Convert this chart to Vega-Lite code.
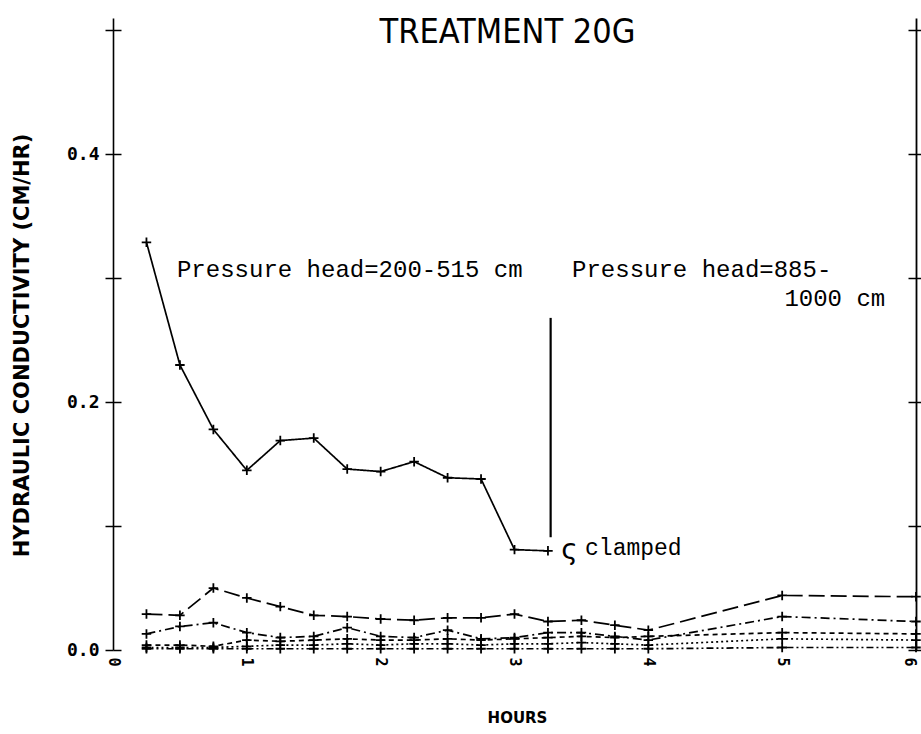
{
  "$schema": "https://vega.github.io/schema/vega-lite/v6.json",
  "width": 803,
  "height": 632,
  "autosize": "none",
  "padding": {"left": 113, "top": 18, "right": 5, "bottom": 84},
  "background": "white",
  "config": {"view": {"stroke": null}},
  "title": {
    "text": "TREATMENT 20G",
    "font": "Liberation Sans Narrow, DejaVu Sans Condensed, DejaVu Sans",
    "fontSize": 34,
    "fontWeight": "normal",
    "color": "black",
    "frame": "group",
    "anchor": "middle",
    "baseline": "top",
    "offset": -32,
    "dx": -7
  },
  "datasets": {
    "series": [
      {"series": "main", "hours": 0.25, "k": 0.329},
      {"series": "main", "hours": 0.5, "k": 0.230},
      {"series": "main", "hours": 0.75, "k": 0.178},
      {"series": "main", "hours": 1.0, "k": 0.145},
      {"series": "main", "hours": 1.25, "k": 0.169},
      {"series": "main", "hours": 1.5, "k": 0.171},
      {"series": "main", "hours": 1.75, "k": 0.146},
      {"series": "main", "hours": 2.0, "k": 0.144},
      {"series": "main", "hours": 2.25, "k": 0.152},
      {"series": "main", "hours": 2.5, "k": 0.139},
      {"series": "main", "hours": 2.75, "k": 0.138},
      {"series": "main", "hours": 3.0, "k": 0.081},
      {"series": "main", "hours": 3.25, "k": 0.080},
      {"series": "A", "hours": 0.25, "k": 0.029},
      {"series": "A", "hours": 0.5, "k": 0.028},
      {"series": "A", "hours": 0.75, "k": 0.050},
      {"series": "A", "hours": 1.0, "k": 0.042},
      {"series": "A", "hours": 1.25, "k": 0.035},
      {"series": "A", "hours": 1.5, "k": 0.028},
      {"series": "A", "hours": 1.75, "k": 0.027},
      {"series": "A", "hours": 2.0, "k": 0.025},
      {"series": "A", "hours": 2.25, "k": 0.024},
      {"series": "A", "hours": 2.5, "k": 0.026},
      {"series": "A", "hours": 2.75, "k": 0.026},
      {"series": "A", "hours": 3.0, "k": 0.029},
      {"series": "A", "hours": 3.25, "k": 0.023},
      {"series": "A", "hours": 3.5, "k": 0.024},
      {"series": "A", "hours": 3.75, "k": 0.020},
      {"series": "A", "hours": 4.0, "k": 0.016},
      {"series": "A", "hours": 5.0, "k": 0.044},
      {"series": "A", "hours": 6.0, "k": 0.043},
      {"series": "B", "hours": 0.25, "k": 0.013},
      {"series": "B", "hours": 0.5, "k": 0.019},
      {"series": "B", "hours": 0.75, "k": 0.022},
      {"series": "B", "hours": 1.0, "k": 0.014},
      {"series": "B", "hours": 1.25, "k": 0.010},
      {"series": "B", "hours": 1.5, "k": 0.011},
      {"series": "B", "hours": 1.75, "k": 0.018},
      {"series": "B", "hours": 2.0, "k": 0.011},
      {"series": "B", "hours": 2.25, "k": 0.010},
      {"series": "B", "hours": 2.5, "k": 0.016},
      {"series": "B", "hours": 2.75, "k": 0.009},
      {"series": "B", "hours": 3.0, "k": 0.010},
      {"series": "B", "hours": 3.25, "k": 0.014},
      {"series": "B", "hours": 3.5, "k": 0.014},
      {"series": "B", "hours": 3.75, "k": 0.011},
      {"series": "B", "hours": 4.0, "k": 0.008},
      {"series": "B", "hours": 5.0, "k": 0.027},
      {"series": "B", "hours": 6.0, "k": 0.023},
      {"series": "C", "hours": 0.25, "k": 0.004},
      {"series": "C", "hours": 0.5, "k": 0.004},
      {"series": "C", "hours": 0.75, "k": 0.003},
      {"series": "C", "hours": 1.0, "k": 0.008},
      {"series": "C", "hours": 1.25, "k": 0.007},
      {"series": "C", "hours": 1.5, "k": 0.008},
      {"series": "C", "hours": 1.75, "k": 0.009},
      {"series": "C", "hours": 2.0, "k": 0.008},
      {"series": "C", "hours": 2.25, "k": 0.008},
      {"series": "C", "hours": 2.5, "k": 0.009},
      {"series": "C", "hours": 2.75, "k": 0.008},
      {"series": "C", "hours": 3.0, "k": 0.009},
      {"series": "C", "hours": 3.25, "k": 0.010},
      {"series": "C", "hours": 3.5, "k": 0.011},
      {"series": "C", "hours": 3.75, "k": 0.010},
      {"series": "C", "hours": 4.0, "k": 0.011},
      {"series": "C", "hours": 5.0, "k": 0.014},
      {"series": "C", "hours": 6.0, "k": 0.013},
      {"series": "D", "hours": 0.25, "k": 0.002},
      {"series": "D", "hours": 0.5, "k": 0.002},
      {"series": "D", "hours": 0.75, "k": 0.002},
      {"series": "D", "hours": 1.0, "k": 0.003},
      {"series": "D", "hours": 1.25, "k": 0.004},
      {"series": "D", "hours": 1.5, "k": 0.004},
      {"series": "D", "hours": 1.75, "k": 0.005},
      {"series": "D", "hours": 2.0, "k": 0.004},
      {"series": "D", "hours": 2.25, "k": 0.005},
      {"series": "D", "hours": 2.5, "k": 0.005},
      {"series": "D", "hours": 2.75, "k": 0.004},
      {"series": "D", "hours": 3.0, "k": 0.005},
      {"series": "D", "hours": 3.25, "k": 0.005},
      {"series": "D", "hours": 3.5, "k": 0.006},
      {"series": "D", "hours": 3.75, "k": 0.005},
      {"series": "D", "hours": 4.0, "k": 0.004},
      {"series": "D", "hours": 5.0, "k": 0.009},
      {"series": "D", "hours": 6.0, "k": 0.008},
      {"series": "E", "hours": 0.25, "k": 0.001},
      {"series": "E", "hours": 0.5, "k": 0.001},
      {"series": "E", "hours": 0.75, "k": 0.001},
      {"series": "E", "hours": 1.0, "k": 0.001},
      {"series": "E", "hours": 1.25, "k": 0.001},
      {"series": "E", "hours": 1.5, "k": 0.001},
      {"series": "E", "hours": 1.75, "k": 0.001},
      {"series": "E", "hours": 2.0, "k": 0.001},
      {"series": "E", "hours": 2.25, "k": 0.001},
      {"series": "E", "hours": 2.5, "k": 0.001},
      {"series": "E", "hours": 2.75, "k": 0.001},
      {"series": "E", "hours": 3.0, "k": 0.001},
      {"series": "E", "hours": 3.25, "k": 0.001},
      {"series": "E", "hours": 3.5, "k": 0.001},
      {"series": "E", "hours": 3.75, "k": 0.001},
      {"series": "E", "hours": 4.0, "k": 0.001},
      {"series": "E", "hours": 5.0, "k": 0.002},
      {"series": "E", "hours": 6.0, "k": 0.002}
    ],
    "separator": [
      {"hours": 3.27, "k_low": 0.091, "k_high": 0.268}
    ],
    "notes_left": [
      {"text": "Pressure head=200-515 cm", "hours": 0.478, "k": 0.307},
      {"text": "Pressure head=885-", "hours": 3.43, "k": 0.307}
    ],
    "notes_right": [
      {"text": "1000 cm", "hours": 5.77, "k": 0.283}
    ],
    "clamp_note": [
      {"text": "clamped", "hours": 3.527, "k": 0.082}
    ],
    "squiggle": [
      {"text": "ς", "hours": 3.35, "k": 0.080}
    ]
  },
  "resolve": {"axis": {"y": "independent"}},
  "layer": [
    {
      "data": {"name": "series"},
      "mark": {"type": "line", "color": "black", "strokeWidth": 1.7},
      "encoding": {
        "x": {
          "field": "hours", "type": "quantitative",
          "scale": {"domain": [0, 6], "nice": false, "zero": false},
          "axis": {
            "values": [0, 1, 2, 3, 4, 5, 6],
            "format": "d",
            "labelAngle": 90,
            "labelAlign": "left",
            "labelBaseline": {"condition": {"test": "datum.value == 6", "value": "top"}, "value": "middle"},
            "labelFont": "DejaVu Sans Mono",
            "labelFontWeight": "bold",
            "labelFontSize": 15,
            "labelColor": "black",
            "labelPadding": 7,
            "ticks": false,
            "tickSize": 0,
            "domain": false,
            "grid": false,
            "title": "HOURS",
            "titleFont": "DejaVu Sans",
            "titleFontWeight": "bold",
            "titleFontSize": 15,
            "titleColor": "black",
            "titleX": 404,
            "titleY": 67,
            "titleAlign": "center",
            "titleBaseline": "middle"
          }
        },
        "y": {
          "field": "k", "type": "quantitative",
          "scale": {"domain": [0, 0.51], "nice": false, "zero": true},
          "axis": {
            "orient": "left",
            "values": [0, 0.1, 0.2, 0.3, 0.4, 0.5],
            "labelExpr": "(round(datum.value * 10) % 2 == 0 && datum.value < 0.45) ? format(datum.value, '.1f') : ''",
            "labelFont": "DejaVu Sans Mono",
            "labelFontWeight": "bold",
            "labelFontSize": 18,
            "labelColor": "black",
            "labelPadding": 6,
            "tickSize": 8,
            "tickWidth": 1.5,
            "tickColor": "black",
            "domainColor": "black",
            "domainWidth": 1.6,
            "grid": false,
            "title": "HYDRAULIC CONDUCTIVITY  (CM/HR)",
            "titleFont": "DejaVu Sans",
            "titleFontWeight": "bold",
            "titleFontSize": 21,
            "titleColor": "black",
            "titleAngle": -90,
            "titleX": -91,
            "titleY": 327,
            "titleAlign": "center",
            "titleBaseline": "middle"
          }
        },
        "detail": {"field": "series"},
        "strokeDash": {
          "field": "series", "type": "nominal",
          "scale": {
            "domain": ["main", "A", "B", "C", "D", "E"],
            "range": [[1, 0], [16, 6], [9, 4, 2, 4], [5, 4], [2, 3], [7, 3, 2, 3, 2, 3]]
          },
          "legend": null
        }
      }
    },
    {
      "data": {"name": "series"},
      "mark": {
        "type": "point",
        "shape": "M-1,0L1,0M0,-1L0,1",
        "filled": false,
        "color": "black",
        "strokeWidth": 1.8,
        "size": 90,
        "opacity": 1
      },
      "encoding": {
        "x": {"field": "hours", "type": "quantitative"},
        "y": {
          "field": "k", "type": "quantitative",
          "axis": {
            "orient": "left",
            "offset": -8,
            "values": [0, 0.1, 0.2, 0.3, 0.4, 0.5],
            "labels": false,
            "domain": false,
            "grid": false,
            "tickSize": 8,
            "tickWidth": 1.5,
            "tickColor": "black",
            "title": null
          }
        }
      }
    },
    {
      "data": {"name": "separator"},
      "mark": {"type": "rule", "color": "black", "strokeWidth": 2.2},
      "encoding": {
        "x": {"field": "hours", "type": "quantitative"},
        "y": {
          "field": "k_low", "type": "quantitative",
          "axis": {
            "orient": "right",
            "values": [0, 0.1, 0.2, 0.3, 0.4, 0.5],
            "labels": false,
            "grid": false,
            "tickSize": 8,
            "tickWidth": 1.5,
            "tickColor": "black",
            "domainColor": "black",
            "domainWidth": 1.8,
            "title": null
          }
        },
        "y2": {"field": "k_high"}
      }
    },
    {
      "data": {"name": "notes_left"},
      "mark": {
        "type": "text",
        "font": "Liberation Mono",
        "fontSize": 24,
        "color": "black",
        "align": "left",
        "baseline": "middle"
      },
      "encoding": {
        "x": {"field": "hours", "type": "quantitative"},
        "y": {
          "field": "k", "type": "quantitative",
          "axis": {
            "orient": "right",
            "offset": -8,
            "values": [0, 0.1, 0.2, 0.3, 0.4, 0.5],
            "labels": false,
            "domain": false,
            "grid": false,
            "tickSize": 8,
            "tickWidth": 1.5,
            "tickColor": "black",
            "title": null
          }
        },
        "text": {"field": "text"}
      }
    },
    {
      "data": {"name": "notes_right"},
      "mark": {
        "type": "text",
        "font": "Liberation Mono",
        "fontSize": 24,
        "color": "black",
        "align": "right",
        "baseline": "middle"
      },
      "encoding": {
        "x": {"field": "hours", "type": "quantitative"},
        "y": {"field": "k", "type": "quantitative", "axis": null},
        "text": {"field": "text"}
      }
    },
    {
      "data": {"name": "clamp_note"},
      "mark": {
        "type": "text",
        "font": "Liberation Mono",
        "fontSize": 23,
        "color": "black",
        "align": "left",
        "baseline": "middle"
      },
      "encoding": {
        "x": {"field": "hours", "type": "quantitative"},
        "y": {"field": "k", "type": "quantitative", "axis": null},
        "text": {"field": "text"}
      }
    },
    {
      "data": {"name": "squiggle"},
      "mark": {
        "type": "text",
        "font": "DejaVu Sans",
        "fontSize": 28,
        "color": "black",
        "align": "left",
        "baseline": "middle"
      },
      "encoding": {
        "x": {"field": "hours", "type": "quantitative"},
        "y": {"field": "k", "type": "quantitative", "axis": null},
        "text": {"field": "text"}
      }
    }
  ]
}
